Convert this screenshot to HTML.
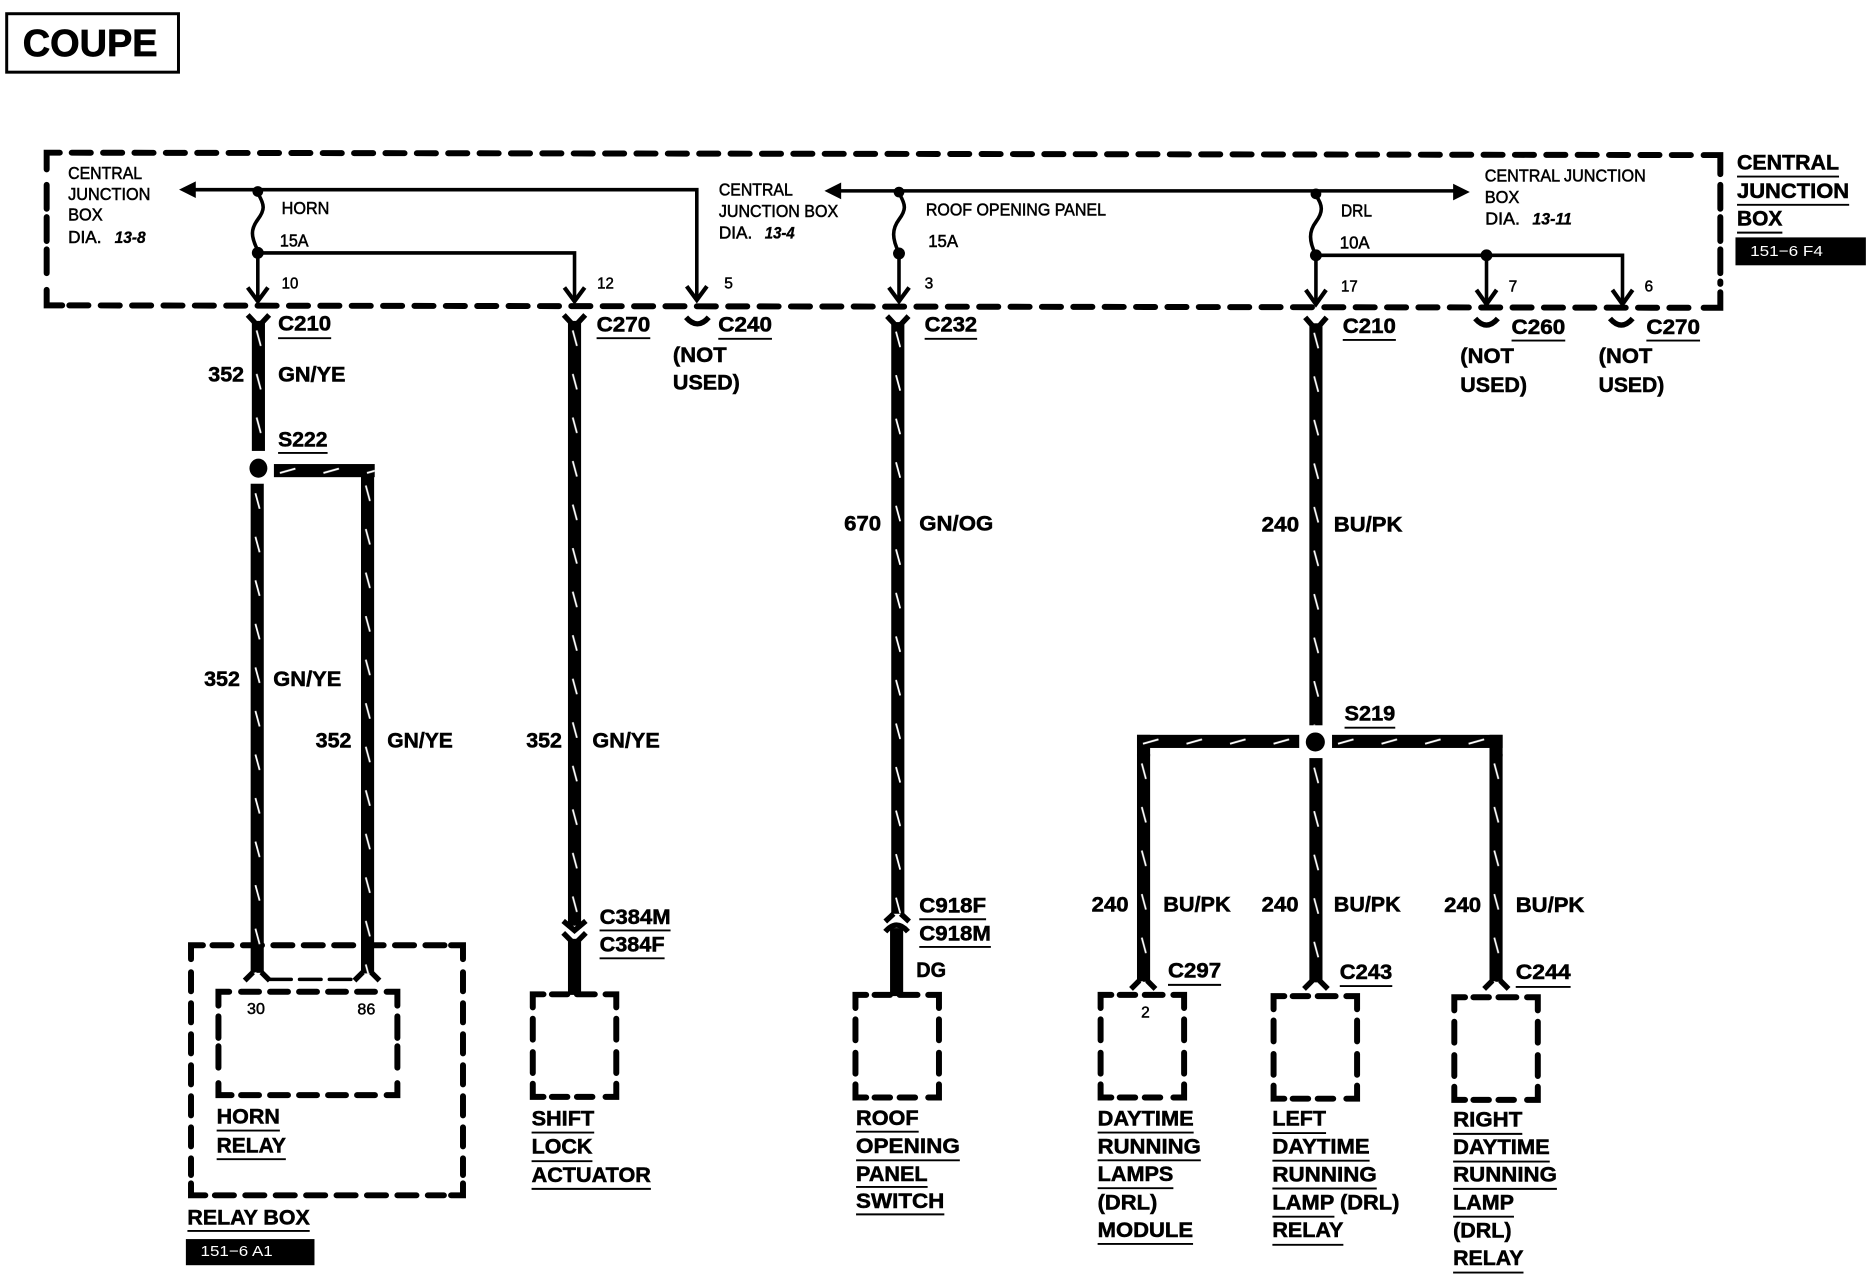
<!DOCTYPE html>
<html><head><meta charset="utf-8"><title>Coupe wiring diagram</title>
<style>
html,body{margin:0;padding:0;background:#fff}
svg{display:block}
text{font-family:"Liberation Sans",sans-serif;fill:#000}
.b{font-size:18px;font-weight:bold;stroke:#000;stroke-width:.45}
.s{font-size:14.5px;stroke:#000;stroke-width:.45}
.n{font-size:13px;stroke:#000;stroke-width:.4}
.i{font-size:14px;font-style:italic;font-weight:bold;stroke:#000;stroke-width:.3}
.w{font-size:12.5px;fill:#fff}
</style></head><body>
<svg xmlns="http://www.w3.org/2000/svg" width="1866" height="1280" viewBox="0 0 1564 1073">
<defs>
<pattern id="pv" patternUnits="userSpaceOnUse" width="11" height="36.5"><path d="M4 8L7.500 21" stroke="#fff" stroke-width="1.5" fill="none"/></pattern>
<pattern id="ph" patternUnits="userSpaceOnUse" width="36.5" height="11"><path d="M5 7.500L18 3.800" stroke="#fff" stroke-width="1.600" fill="none"/></pattern>
<path id="box" fill="none" stroke="#000" stroke-width="5" stroke-linecap="round" d="M0 11V0H9M16 0H29M37 0H52M61 0H70V11M0 20.500V38M0 48.500V66M0 75V86H9M16 86H29M37 86H50M61 86H70V75M70 20.500V38M70 48.500V66"/>
</defs>
<rect width="1564" height="1073" fill="#fff"/>

<rect x="5.500" y="11.500" width="144" height="49" fill="none" stroke="#000" stroke-width="2.500"/>
<text x="19" y="47" font-size="32" font-weight="bold" stroke="#000" stroke-width=".6" textLength="113" lengthAdjust="spacingAndGlyphs">COUPE</text>

<!-- dashed boxes -->
<g fill="none" stroke="#000" stroke-width="5" stroke-linecap="round">
<path d="M39 142V128H50"/>
<path d="M60 128L1420 130" stroke-dasharray="16 10.300"/>
<path d="M1428 130H1442V146"/>
<path d="M39 155V235" stroke-dasharray="20 7"/>
<path d="M39 243V256H52"/>
<path d="M58 256L1420 258" stroke-dasharray="16 10.300"/>
<path d="M1428 258H1442V245"/>
<path d="M1442 155V238" stroke-dasharray="20 7"/>
<path d="M160 804V792.400H170"/>
<path d="M178 792.400H376" stroke-dasharray="16 9.500"/>
<path d="M378 792.400H388V804"/>
<path d="M160 815V985" stroke-dasharray="16 10"/>
<path d="M388 815V985" stroke-dasharray="16 10"/>
<path d="M160 992V1002H172"/>
<path d="M180 1002H372" stroke-dasharray="16 9.500"/>
<path d="M378 1002H388V992"/>
<path d="M183 843V831.400H192"/>
<path d="M202 831.400H322" stroke-dasharray="15 9.300"/>
<path d="M324 831.400H333V843"/>
<path d="M183 852V902" stroke-dasharray="18 7"/>
<path d="M333 852V902" stroke-dasharray="18 7"/>
<path d="M183 908V918H194"/>
<path d="M202 918H322" stroke-dasharray="15 9.300"/>
<path d="M324 918H333V908"/>
<path d="M226 821H298" stroke-width="3" stroke-dasharray="18 7"/>
</g>
<use href="#box" x="446.500" y="833.500"/>
<use href="#box" x="717" y="834"/>
<use href="#box" x="922.500" y="834"/>
<use href="#box" x="1067.500" y="835"/>
<use href="#box" x="1219" y="836"/>

<!-- thin circuit lines -->
<g fill="none" stroke="#000" stroke-width="3">
<path d="M160 159H584V250"/>
<path d="M216 212H481.500V250"/>
<path d="M216 212V250"/>
<path d="M700 160H1220"/>
<path d="M753.500 212V250"/>
<path d="M1103 214H1360V253"/>
<path d="M1103 214V253"/>
<path d="M1246 214V253"/>
<path d="M216 162C222 172 222 176 216 184C210 192 210 198 216 210"/>
<path d="M753.500 162C759.500 172 759.500 176 753.500 184C747.500 192 747.500 200 753.500 212"/>
<path d="M1103 164C1109 172 1109 178 1103 186C1097 194 1097 202 1103 214"/>
<g stroke-width="3.500">
<path d="M207.500 241L216 252.500L224.500 241"/>
<path d="M473 241L481.500 252.500L490 241"/>
<path d="M575.500 240L584 251.500L592.500 240"/>
<path d="M745 241L753.500 252.500L762 241"/>
<path d="M1094.500 243L1103 255L1111.500 243"/>
<path d="M1237.500 243L1246 255L1254.500 243"/>
<path d="M1351.500 243L1360 255L1368.500 243"/>
</g>
</g>
<path d="M150 159L164 152V166Z"/>
<path d="M691 160L705 153V167Z"/>
<path d="M1232 161L1218 154V168Z"/>
<g>
<circle cx="216" cy="160.500" r="4.500"/><circle cx="216" cy="212" r="5"/>
<circle cx="753.500" cy="161" r="4.500"/><circle cx="753.500" cy="212.500" r="5"/>
<circle cx="1103" cy="162.500" r="4.500"/><circle cx="1103" cy="214" r="5"/>
<circle cx="1246" cy="214" r="5"/>
<ellipse cx="216.500" cy="392.500" rx="7.500" ry="8"/>
<ellipse cx="1102.500" cy="622" rx="8" ry="8"/>
</g>

<!-- thick wires -->
<g transform="translate(211 269)"><rect width="11" height="109"/><rect width="11" height="109" fill="url(#pv)"/></g>
<g transform="translate(210 405.500)"><rect width="11" height="410"/><rect width="11" height="410" fill="url(#pv)"/></g>
<g transform="translate(302.500 399)"><rect width="11" height="417"/><rect width="11" height="417" fill="url(#pv)"/></g>
<g transform="translate(476 269)"><rect width="11" height="507"/><rect width="11" height="507" fill="url(#pv)"/></g>
<g transform="translate(747 270)"><rect width="11" height="496"/><rect width="11" height="496" fill="url(#pv)"/></g>
<g transform="translate(1097.500 271)"><rect width="11" height="337"/><rect width="11" height="337" fill="url(#pv)"/></g>
<g transform="translate(1097.500 635.500)"><rect width="11" height="188"/><rect width="11" height="188" fill="url(#pv)"/></g>
<rect x="953" y="616" width="11" height="18"/>
<g transform="translate(953 632)"><rect width="11" height="191"/><rect width="11" height="191" fill="url(#pv)"/></g>
<rect x="1248.500" y="616" width="11" height="18"/>
<g transform="translate(1248.500 632)"><rect width="11" height="191"/><rect width="11" height="191" fill="url(#pv)"/></g>
<g transform="translate(229.500 389)"><rect width="84.500" height="11"/><rect width="84.500" height="11" fill="url(#ph)"/></g>
<g transform="translate(953 616)"><rect width="136" height="11"/><rect width="136" height="11" fill="url(#ph)"/></g>
<g transform="translate(1116.500 616)"><rect width="143" height="11"/><rect width="143" height="11" fill="url(#ph)"/></g>
<rect x="476" y="787" width="11" height="47"/>
<rect x="746" y="778" width="11" height="57"/>

<!-- connector forks -->
<g fill="none" stroke="#000" stroke-width="4.500">
<path d="M207.500 264L214 271M225.500 264L219 271"/>
<path d="M472.500 264L479 271M490.500 264L484 271"/>
<path d="M743.500 265L750 272M761.500 265L755 272"/>
<path d="M1094 266L1100 273M1112 266L1106 273"/>
<path d="M575 266Q584.500 277 594 266"/>
<path d="M1236.500 267Q1246 278 1255.500 267"/>
<path d="M1349.500 267Q1359 278 1368.500 267"/>
<path d="M472 772L481.500 780L491 772"/>
<path d="M472 782L479 789M491 782L484 789"/>
<path d="M742 772.500L749 766M762 772.500L755 766"/>
<path d="M742 781Q751.500 770 761 781"/>
<path d="M205 822L212 815M226 822L219 815"/>
<path d="M297 822L304 815M318 822L311 815"/>
<path d="M948 829L955 822M968.500 829L961.500 822"/>
<path d="M1093 829L1100 822M1113 829L1106 822"/>
<path d="M1244 829L1251 822M1264.500 829L1257.500 822"/>
</g>

<!-- small labels -->
<text class="s" x="57" y="150" textLength="62" lengthAdjust="spacingAndGlyphs">CENTRAL</text>
<text class="s" x="57" y="167.500" textLength="69" lengthAdjust="spacingAndGlyphs">JUNCTION</text>
<text class="s" x="57" y="185" textLength="29" lengthAdjust="spacingAndGlyphs">BOX</text>
<text class="s" x="57" y="203.500" textLength="28" lengthAdjust="spacingAndGlyphs">DIA.</text>
<text class="i" x="96" y="203.500" textLength="26" lengthAdjust="spacingAndGlyphs">13-8</text>
<text class="s" x="236" y="179.500" textLength="40" lengthAdjust="spacingAndGlyphs">HORN</text>
<text class="s" x="234.500" y="206.500" textLength="24" lengthAdjust="spacingAndGlyphs">15A</text>
<text class="n" x="236" y="242" textLength="14" lengthAdjust="spacingAndGlyphs">10</text>
<text class="n" x="500.500" y="242" textLength="14" lengthAdjust="spacingAndGlyphs">12</text>
<text class="n" x="607" y="242">5</text>
<text class="n" x="775" y="242">3</text>
<text class="s" x="602.500" y="164" textLength="62" lengthAdjust="spacingAndGlyphs">CENTRAL</text>
<text class="s" x="602.500" y="182" textLength="100" lengthAdjust="spacingAndGlyphs">JUNCTION BOX</text>
<text class="s" x="602.500" y="200" textLength="28" lengthAdjust="spacingAndGlyphs">DIA.</text>
<text class="i" x="641" y="200" textLength="25" lengthAdjust="spacingAndGlyphs">13-4</text>
<text class="s" x="776" y="180.500" textLength="151" lengthAdjust="spacingAndGlyphs">ROOF OPENING PANEL</text>
<text class="s" x="778" y="207" textLength="25" lengthAdjust="spacingAndGlyphs">15A</text>
<text class="s" x="1124" y="181.500" textLength="26" lengthAdjust="spacingAndGlyphs">DRL</text>
<text class="s" x="1123" y="208.500" textLength="25" lengthAdjust="spacingAndGlyphs">10A</text>
<text class="n" x="1124" y="244.500" textLength="14" lengthAdjust="spacingAndGlyphs">17</text>
<text class="n" x="1264.500" y="244.500">7</text>
<text class="n" x="1378.500" y="244.500">6</text>
<text class="s" x="1244.500" y="152" textLength="135" lengthAdjust="spacingAndGlyphs">CENTRAL JUNCTION</text>
<text class="s" x="1244.500" y="170" textLength="29" lengthAdjust="spacingAndGlyphs">BOX</text>
<text class="s" x="1245" y="188" textLength="29" lengthAdjust="spacingAndGlyphs">DIA.</text>
<text class="i" x="1284.500" y="188" textLength="33" lengthAdjust="spacingAndGlyphs">13-11</text>
<text class="n" x="207" y="850" textLength="15" lengthAdjust="spacingAndGlyphs">30</text>
<text class="n" x="299.500" y="850.500" textLength="15" lengthAdjust="spacingAndGlyphs">86</text>
<text class="n" x="956.500" y="853">2</text>

<!-- bold labels -->
<text class="b" x="233" y="277" textLength="44.500" lengthAdjust="spacingAndGlyphs">C210</text>
<text class="b" x="500" y="278" textLength="45" lengthAdjust="spacingAndGlyphs">C270</text>
<text class="b" x="602" y="278" textLength="45" lengthAdjust="spacingAndGlyphs">C240</text>
<text class="b" x="775" y="278" textLength="44" lengthAdjust="spacingAndGlyphs">C232</text>
<text class="b" x="1125.500" y="279" textLength="44.500" lengthAdjust="spacingAndGlyphs">C210</text>
<text class="b" x="1267" y="280" textLength="45" lengthAdjust="spacingAndGlyphs">C260</text>
<text class="b" x="1380" y="280" textLength="45" lengthAdjust="spacingAndGlyphs">C270</text>
<text class="b" x="564" y="303.500" textLength="45" lengthAdjust="spacingAndGlyphs">(NOT</text>
<text class="b" x="564" y="326.500" textLength="56" lengthAdjust="spacingAndGlyphs">USED)</text>
<text class="b" x="1224" y="304.500" textLength="45" lengthAdjust="spacingAndGlyphs">(NOT</text>
<text class="b" x="1224" y="328.500" textLength="56" lengthAdjust="spacingAndGlyphs">USED)</text>
<text class="b" x="1340" y="304.500" textLength="45" lengthAdjust="spacingAndGlyphs">(NOT</text>
<text class="b" x="1340" y="328.500" textLength="55" lengthAdjust="spacingAndGlyphs">USED)</text>
<text class="b" x="174.500" y="320" textLength="30" lengthAdjust="spacingAndGlyphs">352</text>
<text class="b" x="233" y="320" textLength="56.500" lengthAdjust="spacingAndGlyphs">GN/YE</text>
<text class="b" x="233" y="374.500" textLength="41.500" lengthAdjust="spacingAndGlyphs">S222</text>
<text class="b" x="171" y="575" textLength="30" lengthAdjust="spacingAndGlyphs">352</text>
<text class="b" x="229" y="575" textLength="57" lengthAdjust="spacingAndGlyphs">GN/YE</text>
<text class="b" x="264.500" y="626.500" textLength="30" lengthAdjust="spacingAndGlyphs">352</text>
<text class="b" x="324.500" y="626.500" textLength="55" lengthAdjust="spacingAndGlyphs">GN/YE</text>
<text class="b" x="441" y="626.500" textLength="30" lengthAdjust="spacingAndGlyphs">352</text>
<text class="b" x="496.500" y="626.500" textLength="56.500" lengthAdjust="spacingAndGlyphs">GN/YE</text>
<text class="b" x="707.500" y="444.500" textLength="31" lengthAdjust="spacingAndGlyphs">670</text>
<text class="b" x="770.500" y="444.500" textLength="62" lengthAdjust="spacingAndGlyphs">GN/OG</text>
<text class="b" x="1057.500" y="445.500" textLength="31.500" lengthAdjust="spacingAndGlyphs">240</text>
<text class="b" x="1118" y="445.500" textLength="57.500" lengthAdjust="spacingAndGlyphs">BU/PK</text>
<text class="b" x="1127" y="604" textLength="42.500" lengthAdjust="spacingAndGlyphs">S219</text>
<text class="b" x="915" y="764" textLength="31" lengthAdjust="spacingAndGlyphs">240</text>
<text class="b" x="975" y="764" textLength="56.500" lengthAdjust="spacingAndGlyphs">BU/PK</text>
<text class="b" x="1057.500" y="764" textLength="31" lengthAdjust="spacingAndGlyphs">240</text>
<text class="b" x="1118" y="764" textLength="56" lengthAdjust="spacingAndGlyphs">BU/PK</text>
<text class="b" x="1210.500" y="764.500" textLength="31" lengthAdjust="spacingAndGlyphs">240</text>
<text class="b" x="1270.500" y="764.500" textLength="57.500" lengthAdjust="spacingAndGlyphs">BU/PK</text>
<text class="b" x="979" y="819.500" textLength="44.500" lengthAdjust="spacingAndGlyphs">C297</text>
<text class="b" x="1123" y="820.500" textLength="44" lengthAdjust="spacingAndGlyphs">C243</text>
<text class="b" x="1270.500" y="820.500" textLength="46" lengthAdjust="spacingAndGlyphs">C244</text>
<text class="b" x="502.500" y="774.500" textLength="59.500" lengthAdjust="spacingAndGlyphs">C384M</text>
<text class="b" x="502.500" y="797.500" textLength="54.500" lengthAdjust="spacingAndGlyphs">C384F</text>
<text class="b" x="770.500" y="765" textLength="56" lengthAdjust="spacingAndGlyphs">C918F</text>
<text class="b" x="770.500" y="788.500" textLength="60" lengthAdjust="spacingAndGlyphs">C918M</text>
<text class="b" x="768" y="819" textLength="25" lengthAdjust="spacingAndGlyphs">DG</text>
<text class="b" x="181.500" y="942" textLength="53" lengthAdjust="spacingAndGlyphs">HORN</text>
<text class="b" x="181.500" y="966" textLength="58" lengthAdjust="spacingAndGlyphs">RELAY</text>
<text class="b" x="445.500" y="943.500" textLength="52.500" lengthAdjust="spacingAndGlyphs">SHIFT</text>
<text class="b" x="445.500" y="967" textLength="51" lengthAdjust="spacingAndGlyphs">LOCK</text>
<text class="b" x="445.500" y="991" textLength="100" lengthAdjust="spacingAndGlyphs">ACTUATOR</text>
<text class="b" x="717.500" y="943" textLength="52.500" lengthAdjust="spacingAndGlyphs">ROOF</text>
<text class="b" x="717.500" y="966.500" textLength="87" lengthAdjust="spacingAndGlyphs">OPENING</text>
<text class="b" x="717.500" y="990" textLength="60" lengthAdjust="spacingAndGlyphs">PANEL</text>
<text class="b" x="717.500" y="1012.500" textLength="74" lengthAdjust="spacingAndGlyphs">SWITCH</text>
<text class="b" x="920" y="943.500" textLength="80.500" lengthAdjust="spacingAndGlyphs">DAYTIME</text>
<text class="b" x="920" y="967" textLength="86.500" lengthAdjust="spacingAndGlyphs">RUNNING</text>
<text class="b" x="920" y="990" textLength="63.500" lengthAdjust="spacingAndGlyphs">LAMPS</text>
<text class="b" x="920" y="1014" textLength="50" lengthAdjust="spacingAndGlyphs">(DRL)</text>
<text class="b" x="920" y="1037" textLength="80" lengthAdjust="spacingAndGlyphs">MODULE</text>
<text class="b" x="1066.500" y="943.500" textLength="45" lengthAdjust="spacingAndGlyphs">LEFT</text>
<text class="b" x="1066.500" y="967" textLength="81.500" lengthAdjust="spacingAndGlyphs">DAYTIME</text>
<text class="b" x="1066.500" y="990.500" textLength="87.500" lengthAdjust="spacingAndGlyphs">RUNNING</text>
<text class="b" x="1066.500" y="1014" textLength="106.500" lengthAdjust="spacingAndGlyphs">LAMP (DRL)</text>
<text class="b" x="1066.500" y="1037" textLength="59.500" lengthAdjust="spacingAndGlyphs">RELAY</text>
<text class="b" x="1218" y="944.500" textLength="58" lengthAdjust="spacingAndGlyphs">RIGHT</text>
<text class="b" x="1218" y="967.500" textLength="81" lengthAdjust="spacingAndGlyphs">DAYTIME</text>
<text class="b" x="1218" y="990.500" textLength="87" lengthAdjust="spacingAndGlyphs">RUNNING</text>
<text class="b" x="1218" y="1014" textLength="51" lengthAdjust="spacingAndGlyphs">LAMP</text>
<text class="b" x="1218" y="1037.500" textLength="49" lengthAdjust="spacingAndGlyphs">(DRL)</text>
<text class="b" x="1218" y="1060.500" textLength="59" lengthAdjust="spacingAndGlyphs">RELAY</text>
<text class="b" x="157" y="1026.500" textLength="102.500" lengthAdjust="spacingAndGlyphs">RELAY BOX</text>
<text class="b" x="1456" y="142" textLength="85.500" lengthAdjust="spacingAndGlyphs">CENTRAL</text>
<text class="b" x="1456" y="166" textLength="94" lengthAdjust="spacingAndGlyphs">JUNCTION</text>
<text class="b" x="1456" y="189" textLength="38" lengthAdjust="spacingAndGlyphs">BOX</text>

<!-- underlines -->
<path fill="none" stroke="#000" stroke-width="1.600" d="M233 283.500h44.500M500 283.500h45M602 284h45M775 284h44M1125.500 285h44.500M1267 285.500h45M1380 285.500h45M233 379.700h41.500M1127 610h42.500M979 825.600h44.500M1123 826.600h44M1270.500 827.300h46M502.500 780h59.500M502.500 803.300h54.500M770.500 770.600h56M770.500 793.800h60M181.500 947.700h53M181.500 971.700h58M445.500 949.400h52.500M445.500 973.400h51M445.500 996.600h100M717.500 948.700h52.500M717.500 972.700h87M717.500 995h60M717.500 1018h74M920 949.400h80.500M920 972.700h86.500M920 996h63.500M920 1042.800h80M1066.500 949.800h45M1066.500 973h81.500M1066.500 996.300h87.500M1066.500 1019.900h52M1066.500 1043.500h59.500M1218 950.500h58M1218 973.700h81M1218 996.600h87M1218 1019.900h51M1218 1066.800h59M157 1031.900h102.500M1456 148h85.500M1456 171.700h94M1456 195h38"/>

<!-- reference tags -->
<rect x="1454.700" y="199" width="109.300" height="23.400"/>
<text class="w" x="1467" y="214.500" textLength="61" lengthAdjust="spacingAndGlyphs">151−6 F4</text>
<rect x="155.700" y="1038.700" width="107.800" height="21.900"/>
<text class="w" x="168" y="1053" textLength="60.500" lengthAdjust="spacingAndGlyphs">151−6 A1</text>
</svg>
</body></html>
